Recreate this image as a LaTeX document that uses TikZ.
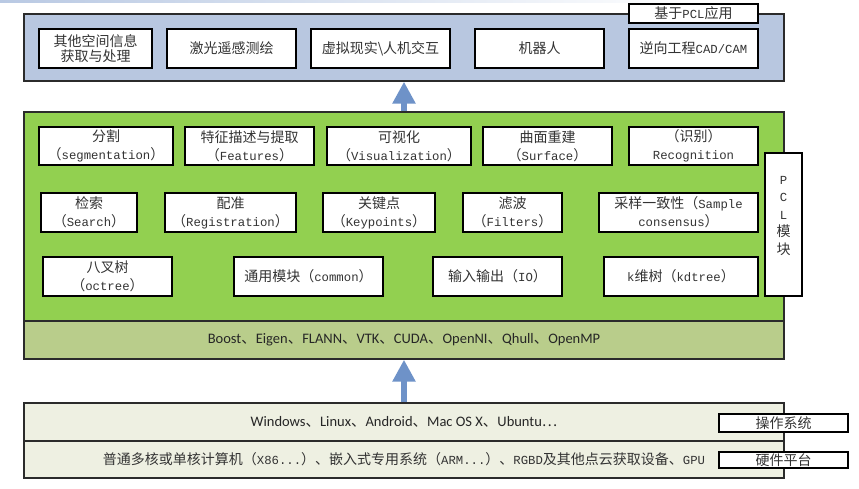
\documentclass[tikz,border=0pt]{standalone}
\usepackage{fontspec}
\setmainfont{Noto Sans CJK SC}
\newfontfamily\cjk{Noto Sans CJK SC}
\newfontfamily\latm{Liberation Mono}
\newfontfamily\sansf{Carlito}
\usetikzlibrary{arrows.meta}
\newcommand\lt[1]{{\latm\fontsize{12.3}{18}\selectfont #1}}
\newcommand\dn{{\cjk 、}}
\definecolor{appblue}{HTML}{B8C7E0}
\definecolor{pclgreen}{HTML}{92D050}
\definecolor{libolive}{HTML}{B9CD8B}
\definecolor{osbeige}{HTML}{EEF0E2}
\definecolor{arrowblue}{HTML}{6E92C8}
\definecolor{frameline}{HTML}{2B2B2B}
\definecolor{txt}{HTML}{333333}
\definecolor{topstrip}{HTML}{B9C9E3}
\tikzset{
  frame/.style={draw=frameline, line width=1.4pt, inner sep=0pt, minimum width=760pt},
  box/.style={draw=black, line width=1.3pt, fill=white, inner sep=0pt, align=center, text=txt,
              font=\fontsize{14}{18}\selectfont},
  bigarrow/.style={draw=arrowblue, line width=6pt, -{Triangle[width=22pt,length=22pt]}},
  sansline/.style={font=\sansf\fontsize{14.5}{16}\selectfont, text=black!85},
}
\begin{document}
\begin{tikzpicture}[x=1pt,y=-1pt]
\useasboundingbox (0,0) rectangle (859,489);
\fill[white] (0,0) rectangle (859,489);
\fill[left color=topstrip, right color=white] (0,0) rectangle (700,2.5);

% application layer
\node[frame, fill=appblue, minimum height=67pt] (app) at (404,47.5) {};
\node[box, minimum width=113pt, minimum height=39pt, font=\fontsize{14}{15}\selectfont] (t1) at (95.5,48.5) {其他空间信息\\获取与处理};
\node[box, minimum width=129pt, minimum height=39pt] (t2) at (231.5,48.5) {激光遥感测绘};
\node[box, minimum width=139pt, minimum height=39pt] (t3) at (380.5,48.5) {虚拟现实\textbackslash 人机交互};
\node[box, minimum width=129pt, minimum height=39pt] (t4) at (539.5,48.5) {机器人};
\node[box, minimum width=129pt, minimum height=39pt] (t5) at (693.5,48.5) {逆向工程\lt{CAD/CAM}};
\node[box, minimum width=129pt, minimum height=19pt] (applbl) at (693.5,13.5) {基于\lt{PCL}应用};

% PCL module layer
\node[frame, fill=pclgreen, minimum height=247pt] (pcl) at (404,235.5) {};
\node[frame, fill=libolive, minimum height=38pt, sansline] (lib) at (404,340)
  {Boost\dn Eigen\dn FLANN\dn VTK\dn CUDA\dn OpenNI\dn Qhull\dn OpenMP};

\node[box, minimum width=134pt, minimum height=38pt] (s1) at (106,146) {分割\\（\lt{segmentation}）};
\node[box, minimum width=129pt, minimum height=38pt] (s2) at (249.5,146) {特征描述与提取\\（\lt{Features}）};
\node[box, minimum width=144pt, minimum height=38pt] (s3) at (399,146) {可视化\\（\lt{Visualization}）};
\node[box, minimum width=129pt, minimum height=38pt] (s4) at (547.5,146) {曲面重建\\（\lt{Surface}）};
\node[box, minimum width=129pt, minimum height=38pt] (s5) at (693.5,146) {（识别）\\\lt{Recognition}};

\node[box, minimum width=96pt, minimum height=39pt] (r1) at (89,212.5) {检索\\（\lt{Search}）};
\node[box, minimum width=131pt, minimum height=39pt] (r2) at (230.5,212.5) {配准\\（\lt{Registration}）};
\node[box, minimum width=112pt, minimum height=39pt] (r3) at (379,212.5) {关键点\\（\lt{Keypoints}）};
\node[box, minimum width=99pt, minimum height=39pt] (r4) at (512.5,212.5) {滤波\\（\lt{Filters}）};
\node[box, minimum width=159pt, minimum height=39pt] (r5) at (678.5,212.5) {采样一致性（\lt{Sample}\\\lt{consensus}）};

\node[box, minimum width=129pt, minimum height=39pt] (u1) at (107.5,276.5) {八叉树\\（\lt{octree}）};
\node[box, minimum width=149pt, minimum height=39pt] (u2) at (308.5,276.5) {通用模块（\lt{common}）};
\node[box, minimum width=129pt, minimum height=39pt] (u3) at (497.5,276.5) {输入输出（\lt{IO}）};
\node[box, minimum width=154pt, minimum height=39pt] (u4) at (681,276.5) {\lt{k}维树（\lt{kdtree}）};

\node[box, minimum width=37pt, minimum height=143pt] (side) at (783.5,224.5) {};
\node[align=center, text=txt, inner sep=0pt, font=\fontsize{14}{17.5}\selectfont] (sidelbl) at (783.5,216)
  {\lt{P}\\\lt{C}\\\lt{L}\\模\\块};

% platform layer
\node[frame, fill=osbeige, minimum height=38pt, sansline] (os) at (404,422)
  {Windows\dn Linux\dn Android\dn Mac OS X\dn Ubuntu{\cjk …}};
\node[frame, fill=osbeige, minimum height=37pt, text=txt, font=\fontsize{14}{15}\selectfont] (hw) at (404,459.5)
  {普通多核或单核计算机（\lt{X86...}）、嵌入式专用系统（\lt{ARM...}）、\lt{RGBD}及其他点云获取设备、\lt{GPU}};
\node[box, minimum width=129pt, minimum height=18pt] (oslbl) at (783.5,423) {操作系统};
\node[box, minimum width=129pt, minimum height=16pt] (hwlbl) at (783.5,460) {硬件平台};

% arrows
\draw[bigarrow] (pcl.north) -- (app.south);
\draw[bigarrow] (os.north) -- (lib.south);
\end{tikzpicture}
\end{document}
